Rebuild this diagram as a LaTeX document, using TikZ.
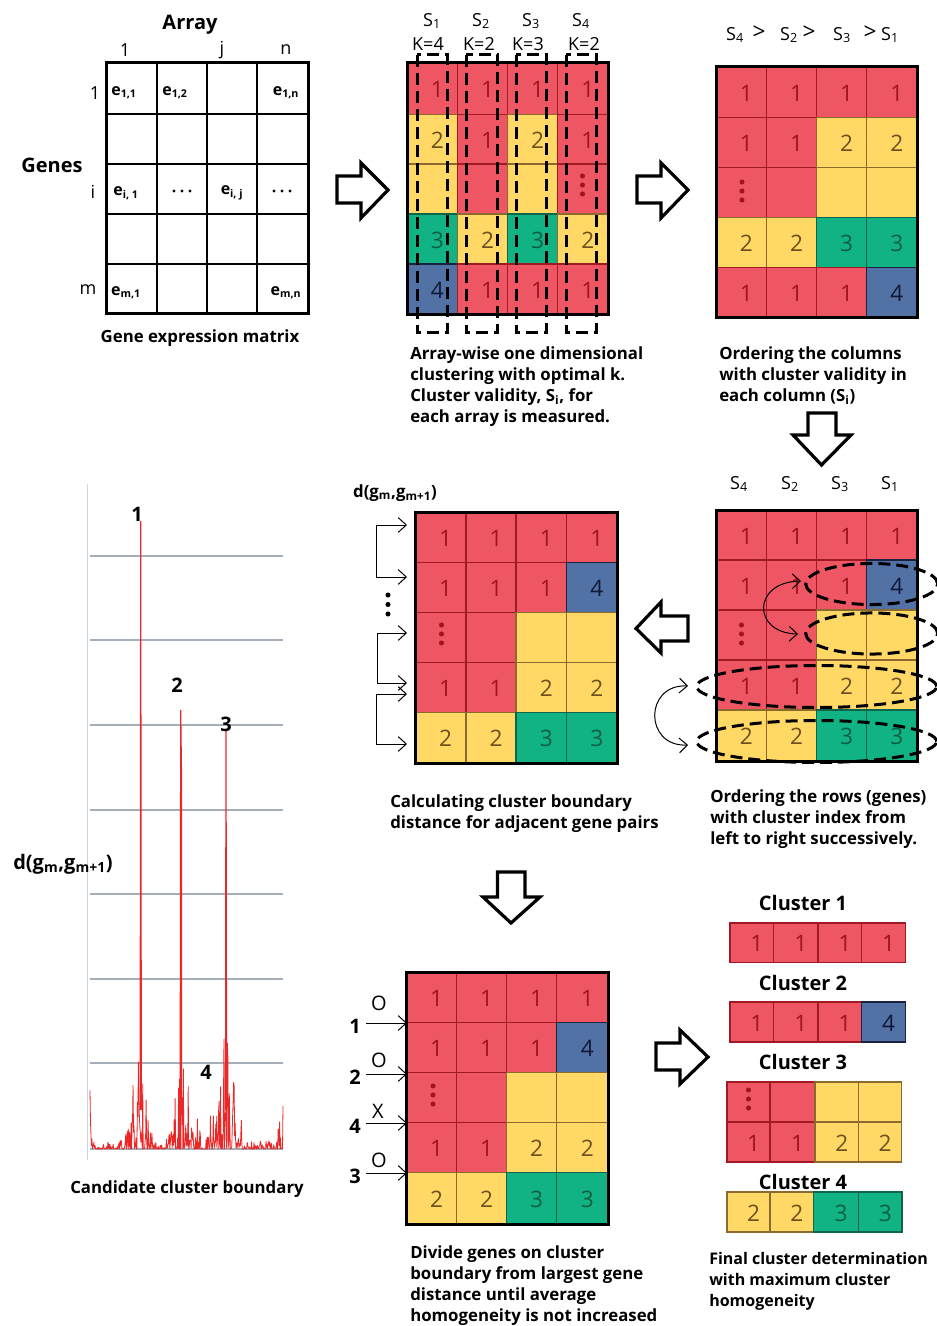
\documentclass[tikz,border=0pt]{standalone}
\usepackage{fontspec}
\setmainfont{Open Sans}
\usetikzlibrary{arrows.meta}
\definecolor{fR}{RGB}{239,86,100}
\definecolor{fY}{RGB}{255,216,102}
\definecolor{fG}{RGB}{17,178,132}
\definecolor{fB}{RGB}{82,113,165}
\definecolor{eR}{RGB}{160,25,35}
\definecolor{eY}{RGB}{140,105,45}
\definecolor{eG}{RGB}{15,100,75}
\definecolor{eB}{RGB}{25,35,65}
\definecolor{tR}{RGB}{160,20,30}
\definecolor{tY}{RGB}{110,80,30}
\definecolor{tG}{RGB}{10,95,65}
\definecolor{tB}{RGB}{15,25,55}
\definecolor{gridc}{RGB}{165,175,185}
\definecolor{axisc}{RGB}{200,215,225}
\definecolor{sig}{RGB}{235,40,40}
\newcommand\numfont{\fontsize{17}{20}\selectfont}
\newcommand\lblfont{\fontsize{13.5}{16}\selectfont}
\newcommand\capfont{\fontsize{12.6}{15.75}\selectfont\bfseries}
\newcommand\ttlfont{\fontsize{15}{18}\selectfont\bfseries}
\newcommand\efont{\fontsize{12}{14}\selectfont\bfseries}
\newcommand\setcols[5]{\def\XA{#1}\def\XB{#2}\def\XC{#3}\def\XD{#4}\def\XE{#5}}
\newcommand\getx[1]{\ifcase#1\or\XA\or\XB\or\XC\or\XD\or\XE\fi}
\newcommand\mrow[3]{\foreach \ck/\ct [count=\i] in {#3}{%
  \pgfmathtruncatemacro\j{\i+1}%
  \edef\xl{\getx{\i}}\edef\xr{\getx{\j}}%
  \path[fill=f\ck,draw=e\ck,line width=0.8pt] (\xl,#1) rectangle (\xr,#2);
  \node[text=t\ck,font=\numfont,inner sep=0pt] at ({(\xl+\xr)/2+5},{(#1+#2)/2+1}) {\ct};}}
\newcommand\rdots[2]{\foreach \dd in {-9,0,9}{\fill[tR] (#1,{#2+\dd}) circle (1.9pt);}}
\newcommand\hdots[2]{\foreach \dd in {-8,0,8}{\fill[black] ({#1+\dd},#2) circle (1.3pt);}}
\tikzset{
 capt/.style={font=\capfont, align=left, anchor=north west, inner sep=0pt},
 lbl/.style={font=\lblfont, inner sep=0pt},
 blk/.style={draw=black, line width=2.4pt, fill=white, line join=miter, miter limit=10},
 dashbox/.style={draw=black, line width=2.25pt, dash pattern=on 9pt off 4.5pt},
 barb/.style={line width=0.75pt, -{Straight Barb[length=6pt,width=11pt]}},
 bibarb/.style={line width=0.75pt, {Straight Barb[length=6pt,width=11pt]}-{Straight Barb[length=6pt,width=11pt]}},
 border/.style={draw=black, line width=2.25pt},
}
\begin{document}
\begin{tikzpicture}[x=0.75pt,y=-0.75pt]
\useasboundingbox (0,0) rectangle (937,1326);
\fill[white] (0,0) rectangle (937,1326);

% ---------- Panel 1: gene expression matrix
\foreach \xx in {157,207,257} \draw[line width=1pt] (\xx,63) -- (\xx,314);
\foreach \yy in {114,164,214,264} \draw[line width=1pt] (106,\yy) -- (308,\yy);
\draw[border] (106,63) rectangle (308,314);
\node[font=\ttlfont] (array) at (190,25) {Array};
\node[lbl] (c1) at (125,50) {1};
\node[lbl] (cj) at (222,50) {j};
\node[lbl] (cn) at (286,50) {n};
\node[lbl] (r1) at (95,93) {1};
\node[lbl] (ri) at (93,192) {i};
\node[lbl] (rm) at (88,290) {m};
\node[font=\ttlfont] (genes) at (52,165) {Genes};
\node[font=\efont] (e11) at (124,93) {e\textsubscript{1,1}};
\node[font=\efont] (e12) at (175,93) {e\textsubscript{1,2}};
\node[font=\efont] (e1n) at (286,93) {e\textsubscript{1,n}};
\node[font=\efont] (ei1) at (126,193) {e\textsubscript{i, 1}};
\hdots{182}{191}
\node[font=\efont] (eij) at (232,193) {e\textsubscript{i, j}};
\hdots{282}{191}
\node[font=\efont] (em1) at (126,293) {e\textsubscript{m,1}};
\node[font=\efont] (emn) at (286,293) {e\textsubscript{m,n}};
\node[font=\capfont] (cap1) at (200,338) {Gene expression matrix};

% arrow 1
\draw[blk] (337,176) -- (361,176) -- (361,163) -- (388,190) -- (361,218) -- (361,203) -- (337,203) -- cycle;

% ---------- Panel 2
\setcols{407}{457.5}{507.5}{557.5}{608}
\mrow{63}{114.5}{R/1,R/1,R/1,R/1}
\mrow{114.5}{164}{Y/2,R/1,Y/2,R/1}
\mrow{164}{214}{Y/{},R/{},Y/{},R/{}}
\mrow{214}{264}{G/3,Y/2,G/3,Y/2}
\mrow{264}{315}{B/4,R/1,R/1,R/1}
\rdots{582.5}{185}
\draw[border] (407,63) rectangle (608,315);
\draw[dashbox] (417,55) rectangle (447,333);
\draw[dashbox] (466,55) rectangle (497.5,333);
\draw[dashbox] (516,55) rectangle (546.5,333);
\draw[dashbox] (566,55) rectangle (596.5,333);
\node[lbl] (s1) at (432,21) {S\textsubscript{1}};
\node[lbl] (s2) at (481,21) {S\textsubscript{2}};
\node[lbl] (s3) at (531,21) {S\textsubscript{3}};
\node[lbl] (s4) at (581,21) {S\textsubscript{4}};
\node[lbl] (k1) at (428,44) {K=4};
\node[lbl] (k2) at (479,44) {K=2};
\node[lbl] (k3) at (528,44) {K=3};
\node[lbl] (k4) at (584,44) {K=2};
\node[capt] (cap2) at (410,346) {Array-wise one dimensional\\clustering with optimal k.\\Cluster validity, S\textsubscript{i}, for\\each array is measured.};

% arrow 2
\draw[blk] (637,176) -- (661,176) -- (661,163) -- (688,190) -- (661,218) -- (661,203) -- (637,203) -- cycle;

% ---------- Panel 3
\setcols{716}{766.5}{816.5}{866.5}{917}
\mrow{67}{117.5}{R/1,R/1,R/1,R/1}
\mrow{117.5}{167.5}{R/1,R/1,Y/2,Y/2}
\mrow{167.5}{217.5}{R/{},R/{},Y/{},Y/{}}
\mrow{217.5}{267.5}{Y/2,Y/2,G/3,G/3}
\mrow{267.5}{318}{R/1,R/1,R/1,B/4}
\rdots{742}{191}
\draw[border] (716,67) rectangle (917,318);
\node[lbl] (o4) at (735,35) {S\textsubscript{4}};
\node[lbl, font=\fontsize{17}{20}\selectfont] (g1) at (759,33) {>};
\node[lbl] (o2) at (789,35) {S\textsubscript{2}};
\node[lbl, font=\fontsize{17}{20}\selectfont] (g2) at (809,33) {>};
\node[lbl] (o3) at (842,35) {S\textsubscript{3}};
\node[lbl, font=\fontsize{17}{20}\selectfont] (g3) at (870,33) {>};
\node[lbl] (o1) at (890,35) {S\textsubscript{1}};
\node[capt] (cap3) at (719,346) {Ordering the columns\\with cluster validity in\\each column (S\textsubscript{i})};

% arrow down
\draw[blk] (808,413) -- (836,413) -- (836,435) -- (851,435) -- (821.5,465) -- (793,435) -- (808,435) -- cycle;

% ---------- Panel 4
\setcols{716}{766.5}{816.5}{866.5}{917}
\mrow{510}{560}{R/1,R/1,R/1,R/1}
\mrow{560}{610}{R/1,R/1,R/1,B/4}
\mrow{610}{660}{R/{},R/{},Y/{},Y/{}}
\mrow{660}{710}{R/1,R/1,Y/2,Y/2}
\mrow{710}{761}{Y/2,Y/2,G/3,G/3}
\rdots{741.5}{634}
\draw[border] (716,510) rectangle (917,761);
\node[lbl] (p4) at (739,484) {S\textsubscript{4}};
\node[lbl] (p2) at (790,484) {S\textsubscript{2}};
\node[lbl] (p3) at (840,484) {S\textsubscript{3}};
\node[lbl] (p1) at (890,484) {S\textsubscript{1}};
\draw[dashbox] (871.7,584) ellipse [x radius=49.5pt, y radius=15.4pt];
\draw[dashbox] (871.7,633.5) ellipse [x radius=49.5pt, y radius=15.4pt];
\draw[dashbox] (816.7,686.5) ellipse [x radius=90pt, y radius=15.75pt];
\draw[dashbox] (816.7,741.5) ellipse [x radius=90pt, y radius=15.75pt];
\coordinate (ca1) at (801,581);
\coordinate (ca2) at (798,634);
\draw[bibarb] (ca1) .. controls (752,582) and (752,633) .. (ca2);
\coordinate (cb1) at (688,686);
\coordinate (cb2) at (688,745);
\draw[bibarb] (cb1) .. controls (644,684) and (644,747) .. (cb2);
\node[capt] (cap4) at (710,789) {Ordering the rows (genes)\\with cluster index from\\left to right successively.};

% arrow left
\draw[blk] (688,616) -- (661,616) -- (661,602) -- (636,628.5) -- (661,653) -- (661,641) -- (688,641) -- cycle;

% ---------- Panel 5
\setcols{415}{466}{516}{566.5}{617}
\mrow{512}{562.5}{R/1,R/1,R/1,R/1}
\mrow{562.5}{612.5}{R/1,R/1,R/1,B/4}
\mrow{612.5}{662.5}{R/{},R/{},Y/{},Y/{}}
\mrow{662.5}{712.5}{R/1,R/1,Y/2,Y/2}
\mrow{712.5}{763}{Y/2,Y/2,G/3,G/3}
\rdots{441.5}{634}
\draw[border] (415,512) rectangle (617,763);
\node[font=\capfont] (dlab) at (395,493) {d(g\textsubscript{m},g\textsubscript{m+1})};
\coordinate (b1a) at (407,525); \coordinate (b1b) at (407,577);
\coordinate (b2a) at (407,633); \coordinate (b2b) at (407,683);
\coordinate (b3a) at (407,694); \coordinate (b3b) at (407,744);
\draw[bibarb] (b1a) -- (376,525) -- (376,577) -- (b1b);
\draw[bibarb] (b2a) -- (377,633) -- (377,683) -- (b2b);
\draw[bibarb] (b3a) -- (376,694) -- (376,744) -- (b3b);
\foreach \dd in {595,604.5,614} \fill[black] (388,\dd) circle (1.9pt);
\node[capt] (cap5) at (390,794) {Calculating cluster boundary\\distance for adjacent gene pairs};

% arrow down 2
\draw[blk] (497.5,872) -- (525,872) -- (525,897) -- (540,897) -- (511,923) -- (483,897) -- (497.5,897) -- cycle;

% ---------- Chart
\foreach \gy in {556,640,725,810,894,979,1063,1149} \draw[gridc, line width=1.1pt] (90,\gy) -- (283,\gy);
\draw[axisc, line width=0.75pt] (87,484) -- (87,1160);
\pgfmathsetseed{11}
\draw[sig, line width=0.6pt, line join=round] plot[variable=\t, domain=90:283, samples=400]
 (\t,{1149-(rnd^3)*(9+95*max(0,1-abs(\t-139)/16)+75*max(0,1-abs(\t-183)/20)+115*max(0,1-abs(\t-226)/20)+75*max(0,1-abs(\t-90.5)/2.5)+70*max(0,1-abs(\t-281)/4))});
\draw[sig, line width=0.9pt] (140.2,1110) -- (140.7,521) -- (141.3,1110);
\draw[sig, line width=0.9pt] (180.2,1110) -- (180.7,710) -- (181.5,775) -- (181.5,1110);
\draw[sig, line width=0.9pt] (225.5,1110) -- (226,730) -- (226.6,1110);
\node[font=\ttlfont] (pk1) at (137,514) {1};
\node[font=\ttlfont] (pk2) at (177,685) {2};
\node[font=\ttlfont] (pk3) at (226,724) {3};
\node[font=\ttlfont] (pk4) at (206,1072) {4};
\node[font=\fontsize{15}{18}\selectfont\bfseries] (dchart) at (63,864) {d(g\textsubscript{m},g\textsubscript{m+1})};
\node[font=\capfont] (cap8) at (187,1189) {Candidate cluster boundary};

% ---------- Panel 6
\setcols{406.5}{456.5}{506.5}{556.5}{608}
\mrow{972}{1022.5}{R/1,R/1,R/1,R/1}
\mrow{1022.5}{1072.5}{R/1,R/1,R/1,B/4}
\mrow{1072.5}{1122.5}{R/{},R/{},Y/{},Y/{}}
\mrow{1122.5}{1172.5}{R/1,R/1,Y/2,Y/2}
\mrow{1172.5}{1224}{Y/2,Y/2,G/3,G/3}
\rdots{433}{1095}
\draw[border] (406.5,972) rectangle (608,1224);
\node[font=\ttlfont] (n1) at (355,1026) {1};
\node[font=\ttlfont] (n2) at (355,1077) {2};
\node[font=\ttlfont] (n4) at (355,1126) {4};
\node[font=\ttlfont] (n3) at (355,1176) {3};
\coordinate (a1) at (407,1023); \coordinate (a2) at (407,1074);
\coordinate (a4) at (407,1123); \coordinate (a3) at (407,1173);
\draw[barb] (366,1023) -- (a1);
\draw[barb] (366,1074) -- (a2);
\draw[barb] (366,1123) -- (a4);
\draw[barb] (366,1173) -- (a3);
\node[lbl, font=\fontsize{15}{17}\selectfont] (m1) at (379,1003) {O};
\node[lbl, font=\fontsize{15}{17}\selectfont] (m2) at (379,1060) {O};
\node[lbl, font=\fontsize{15}{17}\selectfont] (m4) at (378,1111) {X};
\node[lbl, font=\fontsize{15}{17}\selectfont] (m3) at (379,1160) {O};
\node[capt] (cap6) at (410,1245) {Divide genes on cluster\\boundary from largest gene\\distance until average\\homogeneity is not increased};

% arrow 3
\draw[blk] (656,1043) -- (680,1043) -- (680,1030) -- (708,1057) -- (680,1084) -- (680,1070) -- (656,1070) -- cycle;

% ---------- Panel 7
\node[font=\ttlfont] (cl1) at (803,903) {Cluster 1};
\setcols{730}{773.5}{818}{861.5}{905.5}
\mrow{923}{962.5}{R/1,R/1,R/1,R/1}
\node[font=\ttlfont] (cl2) at (803,983) {Cluster 2};
\mrow{1002}{1042}{R/1,R/1,R/1,B/4}
\node[font=\ttlfont] (cl3) at (803,1062) {Cluster 3};
\setcols{727}{770}{815}{858.5}{901.5}
\mrow{1082}{1122}{R/{},R/{},Y/{},Y/{}}
\mrow{1122}{1162}{R/1,R/1,Y/2,Y/2}
\rdots{748.5}{1099}
\node[font=\ttlfont] (cl4) at (803,1182) {Cluster 4};
\setcols{727}{770}{813.5}{858.5}{902}
\mrow{1192}{1232}{Y/2,Y/2,G/3,G/3}
\node[capt, font=\fontsize{12}{15.75}\selectfont\bfseries] (cap7) at (709,1252) {Final cluster determination\\with maximum cluster\\homogeneity};
\end{tikzpicture}
\end{document}
